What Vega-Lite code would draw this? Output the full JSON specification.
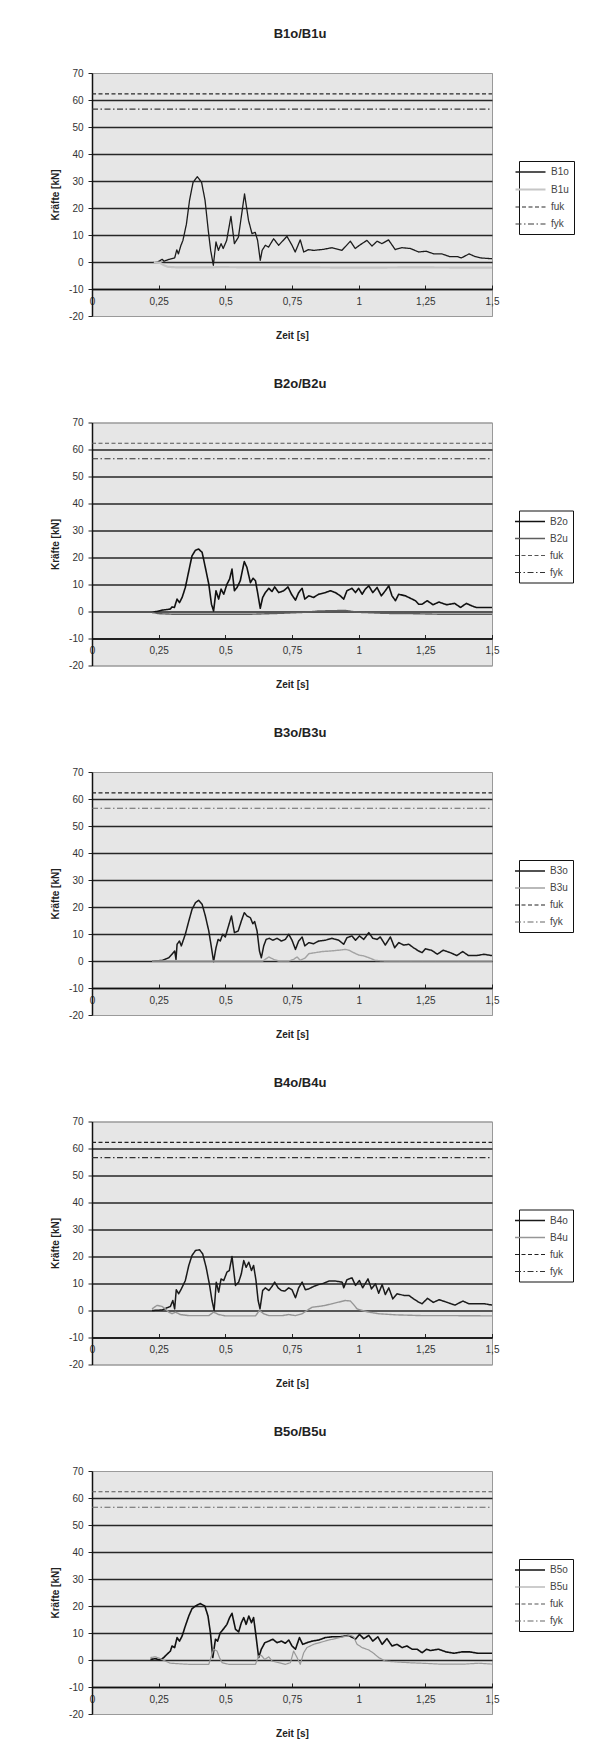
{
"$schema":"https://vega.github.io/schema/vega-lite/v6.json",
"padding":{"left":50,"top":27,"right":0,"bottom":0},
"spacing":35.5,
"datasets":{
"p1":[
{"s":"B1o","t":0.232,"v":0},{"s":"B1o","t":0.245,"v":0},{"s":"B1o","t":0.255,"v":0.5},{"s":"B1o","t":0.263,"v":1},{"s":"B1o","t":0.27,"v":0.3},{"s":"B1o","t":0.29,"v":1},{"s":"B1o","t":0.31,"v":1.5},{"s":"B1o","t":0.318,"v":4.5},{"s":"B1o","t":0.324,"v":3},{"s":"B1o","t":0.333,"v":6},{"s":"B1o","t":0.341,"v":8},{"s":"B1o","t":0.354,"v":14},{"s":"B1o","t":0.366,"v":23},{"s":"B1o","t":0.379,"v":29.5},{"s":"B1o","t":0.395,"v":31.6},{"s":"B1o","t":0.411,"v":29.5},{"s":"B1o","t":0.424,"v":22.8},{"s":"B1o","t":0.436,"v":11.7},{"s":"B1o","t":0.445,"v":4.3},{"s":"B1o","t":0.455,"v":-1.2},{"s":"B1o","t":0.465,"v":7.4},{"s":"B1o","t":0.474,"v":4.3},{"s":"B1o","t":0.484,"v":6.8},{"s":"B1o","t":0.492,"v":5},{"s":"B1o","t":0.505,"v":8},{"s":"B1o","t":0.521,"v":16.9},{"s":"B1o","t":0.534,"v":6.8},{"s":"B1o","t":0.549,"v":9.2},{"s":"B1o","t":0.572,"v":25.2},{"s":"B1o","t":0.587,"v":15.4},{"s":"B1o","t":0.6,"v":10.5},{"s":"B1o","t":0.612,"v":11},{"s":"B1o","t":0.621,"v":8},{"s":"B1o","t":0.631,"v":0.6},{"s":"B1o","t":0.638,"v":4.3},{"s":"B1o","t":0.65,"v":6.2},{"s":"B1o","t":0.662,"v":5.5},{"s":"B1o","t":0.681,"v":8.6},{"s":"B1o","t":0.7,"v":6.2},{"s":"B1o","t":0.731,"v":9.5},{"s":"B1o","t":0.75,"v":6.2},{"s":"B1o","t":0.762,"v":3.7},{"s":"B1o","t":0.781,"v":8.2},{"s":"B1o","t":0.794,"v":3.7},{"s":"B1o","t":0.812,"v":4.6},{"s":"B1o","t":0.831,"v":4.3},{"s":"B1o","t":0.869,"v":4.7},{"s":"B1o","t":0.9,"v":5.3},{"s":"B1o","t":0.937,"v":4.3},{"s":"B1o","t":0.969,"v":7.7},{"s":"B1o","t":0.987,"v":5},{"s":"B1o","t":1.006,"v":6.4},{"s":"B1o","t":1.031,"v":8},{"s":"B1o","t":1.05,"v":5.9},{"s":"B1o","t":1.069,"v":7.7},{"s":"B1o","t":1.087,"v":6.8},{"s":"B1o","t":1.112,"v":8.2},{"s":"B1o","t":1.137,"v":4.6},{"s":"B1o","t":1.162,"v":5.3},{"s":"B1o","t":1.194,"v":5},{"s":"B1o","t":1.225,"v":3.7},{"s":"B1o","t":1.253,"v":4},{"s":"B1o","t":1.282,"v":3},{"s":"B1o","t":1.312,"v":3},{"s":"B1o","t":1.341,"v":2},{"s":"B1o","t":1.37,"v":2},{"s":"B1o","t":1.385,"v":1.5},{"s":"B1o","t":1.414,"v":3},{"s":"B1o","t":1.437,"v":2},{"s":"B1o","t":1.459,"v":1.5},{"s":"B1o","t":1.5,"v":1.2},
{"s":"B1u","t":0.232,"v":0},{"s":"B1u","t":0.255,"v":-0.3},{"s":"B1u","t":0.27,"v":-1.2},{"s":"B1u","t":0.285,"v":-1.8},{"s":"B1u","t":0.32,"v":-2},{"s":"B1u","t":0.45,"v":-2},{"s":"B1u","t":0.47,"v":-1.9},{"s":"B1u","t":0.6,"v":-2},{"s":"B1u","t":0.8,"v":-2},{"s":"B1u","t":1.0,"v":-2.1},{"s":"B1u","t":1.2,"v":-2},{"s":"B1u","t":1.5,"v":-2.1},
{"s":"fuk","t":0,"v":62.3},{"s":"fuk","t":1.5,"v":62.3},{"s":"fyk","t":0,"v":56.6},{"s":"fyk","t":1.5,"v":56.6}
],
"p2":[
{"s":"B2o","t":0.225,"v":-0.4},{"s":"B2o","t":0.263,"v":0.5},{"s":"B2o","t":0.294,"v":0.9},{"s":"B2o","t":0.3,"v":1.7},{"s":"B2o","t":0.309,"v":1.5},{"s":"B2o","t":0.319,"v":4.6},{"s":"B2o","t":0.328,"v":3.3},{"s":"B2o","t":0.338,"v":5.2},{"s":"B2o","t":0.35,"v":8.9},{"s":"B2o","t":0.363,"v":15},{"s":"B2o","t":0.375,"v":20.6},{"s":"B2o","t":0.388,"v":22.7},{"s":"B2o","t":0.4,"v":23.1},{"s":"B2o","t":0.413,"v":21.9},{"s":"B2o","t":0.425,"v":16.3},{"s":"B2o","t":0.438,"v":10.1},{"s":"B2o","t":0.448,"v":2.7},{"s":"B2o","t":0.456,"v":0.2},{"s":"B2o","t":0.465,"v":7.7},{"s":"B2o","t":0.475,"v":4.6},{"s":"B2o","t":0.484,"v":8.3},{"s":"B2o","t":0.494,"v":6.4},{"s":"B2o","t":0.506,"v":10.1},{"s":"B2o","t":0.516,"v":12},{"s":"B2o","t":0.525,"v":15.7},{"s":"B2o","t":0.534,"v":7.7},{"s":"B2o","t":0.544,"v":8.9},{"s":"B2o","t":0.556,"v":11.4},{"s":"B2o","t":0.571,"v":18.5},{"s":"B2o","t":0.581,"v":16.3},{"s":"B2o","t":0.594,"v":10.7},{"s":"B2o","t":0.604,"v":12.3},{"s":"B2o","t":0.613,"v":11.4},{"s":"B2o","t":0.621,"v":7},{"s":"B2o","t":0.631,"v":1.2},{"s":"B2o","t":0.64,"v":5.2},{"s":"B2o","t":0.65,"v":7},{"s":"B2o","t":0.663,"v":8.6},{"s":"B2o","t":0.675,"v":7.4},{"s":"B2o","t":0.685,"v":9.1},{"s":"B2o","t":0.7,"v":7},{"s":"B2o","t":0.719,"v":7.7},{"s":"B2o","t":0.735,"v":9.1},{"s":"B2o","t":0.748,"v":6.4},{"s":"B2o","t":0.763,"v":4.2},{"s":"B2o","t":0.775,"v":7},{"s":"B2o","t":0.788,"v":8.6},{"s":"B2o","t":0.798,"v":4.6},{"s":"B2o","t":0.813,"v":5.8},{"s":"B2o","t":0.831,"v":5.2},{"s":"B2o","t":0.85,"v":6.4},{"s":"B2o","t":0.875,"v":7},{"s":"B2o","t":0.894,"v":7.7},{"s":"B2o","t":0.913,"v":7},{"s":"B2o","t":0.931,"v":5.8},{"s":"B2o","t":0.944,"v":4.6},{"s":"B2o","t":0.956,"v":7.7},{"s":"B2o","t":0.975,"v":8.6},{"s":"B2o","t":0.988,"v":7},{"s":"B2o","t":1.0,"v":8.6},{"s":"B2o","t":1.013,"v":6.4},{"s":"B2o","t":1.025,"v":8.3},{"s":"B2o","t":1.038,"v":9.5},{"s":"B2o","t":1.053,"v":7},{"s":"B2o","t":1.069,"v":8.9},{"s":"B2o","t":1.085,"v":5.8},{"s":"B2o","t":1.1,"v":7.7},{"s":"B2o","t":1.113,"v":9.5},{"s":"B2o","t":1.125,"v":5.8},{"s":"B2o","t":1.138,"v":4},{"s":"B2o","t":1.15,"v":6.4},{"s":"B2o","t":1.175,"v":5.8},{"s":"B2o","t":1.194,"v":4.9},{"s":"B2o","t":1.213,"v":4},{"s":"B2o","t":1.225,"v":2.7},{"s":"B2o","t":1.238,"v":2.7},{"s":"B2o","t":1.257,"v":4},{"s":"B2o","t":1.279,"v":2.5},{"s":"B2o","t":1.301,"v":3.5},{"s":"B2o","t":1.33,"v":2.5},{"s":"B2o","t":1.36,"v":3},{"s":"B2o","t":1.382,"v":1.5},{"s":"B2o","t":1.404,"v":3},{"s":"B2o","t":1.426,"v":2},{"s":"B2o","t":1.441,"v":1.5},{"s":"B2o","t":1.47,"v":1.5},{"s":"B2o","t":1.5,"v":1.5},
{"s":"B2u","t":0.225,"v":-0.3},{"s":"B2u","t":0.25,"v":-0.8},{"s":"B2u","t":0.3,"v":-1},{"s":"B2u","t":0.45,"v":-1},{"s":"B2u","t":0.6,"v":-1},{"s":"B2u","t":0.7,"v":-0.7},{"s":"B2u","t":0.8,"v":-0.3},{"s":"B2u","t":0.85,"v":0.2},{"s":"B2u","t":0.9,"v":0.3},{"s":"B2u","t":0.95,"v":0.4},{"s":"B2u","t":1.0,"v":-0.3},{"s":"B2u","t":1.1,"v":-0.7},{"s":"B2u","t":1.2,"v":-0.8},{"s":"B2u","t":1.3,"v":-1},{"s":"B2u","t":1.5,"v":-1},
{"s":"fuk","t":0,"v":62.3},{"s":"fuk","t":1.5,"v":62.3},{"s":"fyk","t":0,"v":56.6},{"s":"fyk","t":1.5,"v":56.6}
],
"p3":[
{"s":"B3o","t":0.225,"v":0},{"s":"B3o","t":0.263,"v":0.2},{"s":"B3o","t":0.288,"v":1.2},{"s":"B3o","t":0.3,"v":2.5},{"s":"B3o","t":0.31,"v":3.7},{"s":"B3o","t":0.315,"v":0.6},{"s":"B3o","t":0.319,"v":6.2},{"s":"B3o","t":0.328,"v":7.4},{"s":"B3o","t":0.335,"v":5.6},{"s":"B3o","t":0.35,"v":9.9},{"s":"B3o","t":0.363,"v":14.8},{"s":"B3o","t":0.375,"v":19.1},{"s":"B3o","t":0.388,"v":21.6},{"s":"B3o","t":0.4,"v":22.5},{"s":"B3o","t":0.413,"v":21},{"s":"B3o","t":0.425,"v":16.7},{"s":"B3o","t":0.438,"v":11.1},{"s":"B3o","t":0.448,"v":4.9},{"s":"B3o","t":0.456,"v":-0.2},{"s":"B3o","t":0.465,"v":4.9},{"s":"B3o","t":0.473,"v":8},{"s":"B3o","t":0.481,"v":7.4},{"s":"B3o","t":0.49,"v":9.9},{"s":"B3o","t":0.5,"v":8.9},{"s":"B3o","t":0.51,"v":12.3},{"s":"B3o","t":0.523,"v":16.7},{"s":"B3o","t":0.534,"v":10.5},{"s":"B3o","t":0.548,"v":11.1},{"s":"B3o","t":0.56,"v":14.8},{"s":"B3o","t":0.571,"v":17.9},{"s":"B3o","t":0.581,"v":16.7},{"s":"B3o","t":0.594,"v":16},{"s":"B3o","t":0.603,"v":13.8},{"s":"B3o","t":0.61,"v":14.6},{"s":"B3o","t":0.619,"v":11.1},{"s":"B3o","t":0.628,"v":3.7},{"s":"B3o","t":0.635,"v":1.2},{"s":"B3o","t":0.644,"v":5.6},{"s":"B3o","t":0.653,"v":8},{"s":"B3o","t":0.665,"v":8.4},{"s":"B3o","t":0.678,"v":7.7},{"s":"B3o","t":0.694,"v":8.4},{"s":"B3o","t":0.71,"v":7.4},{"s":"B3o","t":0.725,"v":8},{"s":"B3o","t":0.738,"v":9.9},{"s":"B3o","t":0.75,"v":7.7},{"s":"B3o","t":0.763,"v":4.3},{"s":"B3o","t":0.775,"v":7.4},{"s":"B3o","t":0.788,"v":8.9},{"s":"B3o","t":0.798,"v":5.6},{"s":"B3o","t":0.813,"v":6.8},{"s":"B3o","t":0.831,"v":6.4},{"s":"B3o","t":0.85,"v":7.4},{"s":"B3o","t":0.875,"v":7.7},{"s":"B3o","t":0.9,"v":8.4},{"s":"B3o","t":0.925,"v":7.7},{"s":"B3o","t":0.944,"v":6.2},{"s":"B3o","t":0.956,"v":8.6},{"s":"B3o","t":0.975,"v":9.3},{"s":"B3o","t":0.988,"v":7.7},{"s":"B3o","t":1.003,"v":9.3},{"s":"B3o","t":1.019,"v":8},{"s":"B3o","t":1.038,"v":10.5},{"s":"B3o","t":1.053,"v":8.4},{"s":"B3o","t":1.069,"v":8},{"s":"B3o","t":1.081,"v":8.9},{"s":"B3o","t":1.1,"v":5.9},{"s":"B3o","t":1.119,"v":8.9},{"s":"B3o","t":1.135,"v":4.9},{"s":"B3o","t":1.15,"v":6.8},{"s":"B3o","t":1.169,"v":5.9},{"s":"B3o","t":1.188,"v":6.2},{"s":"B3o","t":1.206,"v":4.9},{"s":"B3o","t":1.225,"v":3.7},{"s":"B3o","t":1.238,"v":3.1},{"s":"B3o","t":1.25,"v":4.5},{"s":"B3o","t":1.273,"v":4},{"s":"B3o","t":1.295,"v":2.5},{"s":"B3o","t":1.317,"v":4},{"s":"B3o","t":1.346,"v":3},{"s":"B3o","t":1.368,"v":2},{"s":"B3o","t":1.39,"v":3.5},{"s":"B3o","t":1.412,"v":2},{"s":"B3o","t":1.441,"v":2},{"s":"B3o","t":1.47,"v":2.5},{"s":"B3o","t":1.5,"v":2},
{"s":"B3u","t":0.225,"v":0},{"s":"B3u","t":0.45,"v":0},{"s":"B3u","t":0.64,"v":0},{"s":"B3u","t":0.663,"v":1.5},{"s":"B3u","t":0.681,"v":0.6},{"s":"B3u","t":0.7,"v":0},{"s":"B3u","t":0.738,"v":0},{"s":"B3u","t":0.756,"v":0.6},{"s":"B3u","t":0.769,"v":1.5},{"s":"B3u","t":0.781,"v":0.2},{"s":"B3u","t":0.8,"v":1.2},{"s":"B3u","t":0.813,"v":2.7},{"s":"B3u","t":0.838,"v":3.1},{"s":"B3u","t":0.863,"v":3.5},{"s":"B3u","t":0.894,"v":3.7},{"s":"B3u","t":0.925,"v":4},{"s":"B3u","t":0.95,"v":4.3},{"s":"B3u","t":0.963,"v":4},{"s":"B3u","t":0.981,"v":3.1},{"s":"B3u","t":1.0,"v":2.2},{"s":"B3u","t":1.019,"v":1.9},{"s":"B3u","t":1.044,"v":1},{"s":"B3u","t":1.063,"v":0.2},{"s":"B3u","t":1.1,"v":0},{"s":"B3u","t":1.3,"v":0},{"s":"B3u","t":1.5,"v":0},
{"s":"fuk","t":0,"v":62.3},{"s":"fuk","t":1.5,"v":62.3},{"s":"fyk","t":0,"v":56.6},{"s":"fyk","t":1.5,"v":56.6}
],
"p4":[
{"s":"B4o","t":0.225,"v":0},{"s":"B4o","t":0.263,"v":0.2},{"s":"B4o","t":0.281,"v":1},{"s":"B4o","t":0.294,"v":1.5},{"s":"B4o","t":0.303,"v":3.7},{"s":"B4o","t":0.31,"v":0.6},{"s":"B4o","t":0.316,"v":7.7},{"s":"B4o","t":0.325,"v":6.2},{"s":"B4o","t":0.335,"v":8},{"s":"B4o","t":0.35,"v":11.1},{"s":"B4o","t":0.363,"v":16.7},{"s":"B4o","t":0.375,"v":20.4},{"s":"B4o","t":0.388,"v":22.2},{"s":"B4o","t":0.403,"v":22.5},{"s":"B4o","t":0.415,"v":21},{"s":"B4o","t":0.428,"v":16},{"s":"B4o","t":0.44,"v":9.9},{"s":"B4o","t":0.45,"v":3.7},{"s":"B4o","t":0.458,"v":0},{"s":"B4o","t":0.466,"v":10.5},{"s":"B4o","t":0.475,"v":6.8},{"s":"B4o","t":0.484,"v":11.7},{"s":"B4o","t":0.494,"v":11.1},{"s":"B4o","t":0.506,"v":14.2},{"s":"B4o","t":0.515,"v":14.8},{"s":"B4o","t":0.525,"v":20},{"s":"B4o","t":0.538,"v":9.3},{"s":"B4o","t":0.55,"v":10.5},{"s":"B4o","t":0.56,"v":13.6},{"s":"B4o","t":0.569,"v":18.5},{"s":"B4o","t":0.578,"v":16},{"s":"B4o","t":0.588,"v":17.9},{"s":"B4o","t":0.598,"v":14.8},{"s":"B4o","t":0.606,"v":16.7},{"s":"B4o","t":0.615,"v":11.1},{"s":"B4o","t":0.623,"v":3.7},{"s":"B4o","t":0.63,"v":0.6},{"s":"B4o","t":0.64,"v":7.4},{"s":"B4o","t":0.65,"v":8.4},{"s":"B4o","t":0.663,"v":7.4},{"s":"B4o","t":0.675,"v":8.9},{"s":"B4o","t":0.685,"v":10.5},{"s":"B4o","t":0.698,"v":8.4},{"s":"B4o","t":0.71,"v":7.4},{"s":"B4o","t":0.723,"v":7.2},{"s":"B4o","t":0.738,"v":8.4},{"s":"B4o","t":0.75,"v":7.7},{"s":"B4o","t":0.763,"v":4.7},{"s":"B4o","t":0.775,"v":8.4},{"s":"B4o","t":0.788,"v":10.5},{"s":"B4o","t":0.8,"v":7.7},{"s":"B4o","t":0.813,"v":8},{"s":"B4o","t":0.831,"v":8.9},{"s":"B4o","t":0.85,"v":9.6},{"s":"B4o","t":0.869,"v":10.1},{"s":"B4o","t":0.888,"v":10.9},{"s":"B4o","t":0.913,"v":10.9},{"s":"B4o","t":0.938,"v":10.5},{"s":"B4o","t":0.944,"v":8.4},{"s":"B4o","t":0.956,"v":11.4},{"s":"B4o","t":0.975,"v":12.1},{"s":"B4o","t":0.988,"v":9.3},{"s":"B4o","t":1.003,"v":11.1},{"s":"B4o","t":1.015,"v":8.4},{"s":"B4o","t":1.035,"v":11.7},{"s":"B4o","t":1.048,"v":8},{"s":"B4o","t":1.063,"v":9.9},{"s":"B4o","t":1.075,"v":6.4},{"s":"B4o","t":1.088,"v":9.6},{"s":"B4o","t":1.1,"v":5.9},{"s":"B4o","t":1.113,"v":8.4},{"s":"B4o","t":1.128,"v":4.3},{"s":"B4o","t":1.144,"v":6.2},{"s":"B4o","t":1.169,"v":5.6},{"s":"B4o","t":1.188,"v":5.6},{"s":"B4o","t":1.206,"v":4.3},{"s":"B4o","t":1.225,"v":3.1},{"s":"B4o","t":1.238,"v":2.5},{"s":"B4o","t":1.258,"v":4.5},{"s":"B4o","t":1.28,"v":3},{"s":"B4o","t":1.302,"v":4},{"s":"B4o","t":1.332,"v":3},{"s":"B4o","t":1.361,"v":2},{"s":"B4o","t":1.391,"v":3.5},{"s":"B4o","t":1.413,"v":2.5},{"s":"B4o","t":1.443,"v":2.5},{"s":"B4o","t":1.472,"v":2.5},{"s":"B4o","t":1.5,"v":2},
{"s":"B4u","t":0.225,"v":0.6},{"s":"B4u","t":0.244,"v":1.9},{"s":"B4u","t":0.263,"v":1.5},{"s":"B4u","t":0.275,"v":0.6},{"s":"B4u","t":0.288,"v":-0.6},{"s":"B4u","t":0.3,"v":-1.2},{"s":"B4u","t":0.313,"v":-0.6},{"s":"B4u","t":0.331,"v":-1.5},{"s":"B4u","t":0.363,"v":-1.9},{"s":"B4u","t":0.438,"v":-1.9},{"s":"B4u","t":0.456,"v":-0.6},{"s":"B4u","t":0.475,"v":-1.5},{"s":"B4u","t":0.5,"v":-2},{"s":"B4u","t":0.613,"v":-2},{"s":"B4u","t":0.628,"v":0},{"s":"B4u","t":0.644,"v":-1.2},{"s":"B4u","t":0.663,"v":-1.9},{"s":"B4u","t":0.713,"v":-1.9},{"s":"B4u","t":0.738,"v":-1.5},{"s":"B4u","t":0.763,"v":-1.9},{"s":"B4u","t":0.788,"v":-1.2},{"s":"B4u","t":0.806,"v":0},{"s":"B4u","t":0.825,"v":1.2},{"s":"B4u","t":0.85,"v":1.5},{"s":"B4u","t":0.875,"v":1.9},{"s":"B4u","t":0.9,"v":2.5},{"s":"B4u","t":0.925,"v":3.1},{"s":"B4u","t":0.95,"v":3.7},{"s":"B4u","t":0.969,"v":3.5},{"s":"B4u","t":0.981,"v":2.2},{"s":"B4u","t":0.994,"v":0.6},{"s":"B4u","t":1.013,"v":0},{"s":"B4u","t":1.038,"v":-0.6},{"s":"B4u","t":1.075,"v":-1.2},{"s":"B4u","t":1.138,"v":-1.6},{"s":"B4u","t":1.238,"v":-1.9},{"s":"B4u","t":1.35,"v":-1.9},{"s":"B4u","t":1.5,"v":-2},
{"s":"fuk","t":0,"v":62.3},{"s":"fuk","t":1.5,"v":62.3},{"s":"fyk","t":0,"v":56.6},{"s":"fyk","t":1.5,"v":56.6}
],
"p5":[
{"s":"B5o","t":0.219,"v":0.2},{"s":"B5o","t":0.238,"v":0.5},{"s":"B5o","t":0.256,"v":0},{"s":"B5o","t":0.269,"v":0.9},{"s":"B5o","t":0.281,"v":2.1},{"s":"B5o","t":0.294,"v":3.3},{"s":"B5o","t":0.3,"v":5.2},{"s":"B5o","t":0.31,"v":4.6},{"s":"B5o","t":0.319,"v":8.3},{"s":"B5o","t":0.328,"v":7},{"s":"B5o","t":0.338,"v":8.9},{"s":"B5o","t":0.35,"v":12.6},{"s":"B5o","t":0.363,"v":16.3},{"s":"B5o","t":0.375,"v":19},{"s":"B5o","t":0.388,"v":20},{"s":"B5o","t":0.406,"v":20.9},{"s":"B5o","t":0.423,"v":20},{"s":"B5o","t":0.435,"v":16.3},{"s":"B5o","t":0.444,"v":10.1},{"s":"B5o","t":0.453,"v":0.9},{"s":"B5o","t":0.463,"v":7.7},{"s":"B5o","t":0.471,"v":7},{"s":"B5o","t":0.481,"v":10.1},{"s":"B5o","t":0.494,"v":11.6},{"s":"B5o","t":0.506,"v":13.2},{"s":"B5o","t":0.516,"v":15.7},{"s":"B5o","t":0.525,"v":17.3},{"s":"B5o","t":0.538,"v":11.4},{"s":"B5o","t":0.55,"v":10.4},{"s":"B5o","t":0.56,"v":13.8},{"s":"B5o","t":0.569,"v":15.7},{"s":"B5o","t":0.578,"v":13.2},{"s":"B5o","t":0.588,"v":16.3},{"s":"B5o","t":0.598,"v":13.8},{"s":"B5o","t":0.606,"v":15.7},{"s":"B5o","t":0.615,"v":8.9},{"s":"B5o","t":0.625,"v":0.9},{"s":"B5o","t":0.635,"v":4},{"s":"B5o","t":0.648,"v":6.4},{"s":"B5o","t":0.663,"v":7},{"s":"B5o","t":0.678,"v":7.7},{"s":"B5o","t":0.694,"v":6.4},{"s":"B5o","t":0.71,"v":7},{"s":"B5o","t":0.725,"v":6.2},{"s":"B5o","t":0.738,"v":7.4},{"s":"B5o","t":0.75,"v":5.2},{"s":"B5o","t":0.763,"v":4},{"s":"B5o","t":0.778,"v":8.3},{"s":"B5o","t":0.79,"v":5.8},{"s":"B5o","t":0.806,"v":6.4},{"s":"B5o","t":0.825,"v":7},{"s":"B5o","t":0.85,"v":7.4},{"s":"B5o","t":0.875,"v":8.3},{"s":"B5o","t":0.9,"v":8.6},{"s":"B5o","t":0.931,"v":8.6},{"s":"B5o","t":0.963,"v":9.1},{"s":"B5o","t":0.988,"v":7.7},{"s":"B5o","t":1.003,"v":9.5},{"s":"B5o","t":1.019,"v":7.9},{"s":"B5o","t":1.038,"v":9.1},{"s":"B5o","t":1.053,"v":7},{"s":"B5o","t":1.072,"v":8.6},{"s":"B5o","t":1.088,"v":5.8},{"s":"B5o","t":1.106,"v":7.9},{"s":"B5o","t":1.125,"v":5.2},{"s":"B5o","t":1.144,"v":5.8},{"s":"B5o","t":1.163,"v":4.6},{"s":"B5o","t":1.181,"v":5.2},{"s":"B5o","t":1.2,"v":4},{"s":"B5o","t":1.219,"v":4},{"s":"B5o","t":1.238,"v":2.7},{"s":"B5o","t":1.255,"v":4},{"s":"B5o","t":1.269,"v":3.5},{"s":"B5o","t":1.299,"v":4},{"s":"B5o","t":1.328,"v":3},{"s":"B5o","t":1.358,"v":2.5},{"s":"B5o","t":1.387,"v":3},{"s":"B5o","t":1.417,"v":3},{"s":"B5o","t":1.446,"v":2.5},{"s":"B5o","t":1.476,"v":2.5},{"s":"B5o","t":1.5,"v":2.5},
{"s":"B5u","t":0.219,"v":0.9},{"s":"B5u","t":0.238,"v":1.2},{"s":"B5u","t":0.256,"v":0.5},{"s":"B5u","t":0.275,"v":-0.4},{"s":"B5u","t":0.294,"v":-1.2},{"s":"B5u","t":0.363,"v":-1.6},{"s":"B5u","t":0.438,"v":-1.6},{"s":"B5u","t":0.448,"v":1.5},{"s":"B5u","t":0.456,"v":4},{"s":"B5u","t":0.469,"v":3.3},{"s":"B5u","t":0.478,"v":0.9},{"s":"B5u","t":0.488,"v":-1},{"s":"B5u","t":0.513,"v":-1.6},{"s":"B5u","t":0.613,"v":-1.6},{"s":"B5u","t":0.625,"v":1.5},{"s":"B5u","t":0.635,"v":1.7},{"s":"B5u","t":0.648,"v":0.2},{"s":"B5u","t":0.663,"v":1.2},{"s":"B5u","t":0.675,"v":-0.4},{"s":"B5u","t":0.7,"v":-1},{"s":"B5u","t":0.725,"v":-1.6},{"s":"B5u","t":0.744,"v":-1},{"s":"B5u","t":0.756,"v":3.3},{"s":"B5u","t":0.769,"v":0.9},{"s":"B5u","t":0.781,"v":-1.6},{"s":"B5u","t":0.794,"v":2.7},{"s":"B5u","t":0.806,"v":4.6},{"s":"B5u","t":0.831,"v":5.8},{"s":"B5u","t":0.863,"v":6.7},{"s":"B5u","t":0.888,"v":7.4},{"s":"B5u","t":0.913,"v":7.9},{"s":"B5u","t":0.938,"v":8.5},{"s":"B5u","t":0.969,"v":9.1},{"s":"B5u","t":0.981,"v":8.6},{"s":"B5u","t":0.994,"v":5.8},{"s":"B5u","t":1.013,"v":4.6},{"s":"B5u","t":1.038,"v":3.7},{"s":"B5u","t":1.056,"v":2.5},{"s":"B5u","t":1.075,"v":0.9},{"s":"B5u","t":1.1,"v":-0.4},{"s":"B5u","t":1.138,"v":-0.7},{"s":"B5u","t":1.188,"v":-1},{"s":"B5u","t":1.238,"v":-1.2},{"s":"B5u","t":1.3,"v":-1.5},{"s":"B5u","t":1.4,"v":-1.5},{"s":"B5u","t":1.45,"v":-1.2},{"s":"B5u","t":1.5,"v":-1.5},
{"s":"fuk","t":0,"v":62.3},{"s":"fuk","t":1.5,"v":62.3},{"s":"fyk","t":0,"v":56.6},{"s":"fyk","t":1.5,"v":56.6}
]
},
"vconcat":[
{"data":{"name":"p1"},"title":{"text":"B1o/B1u"},"width":400,"height":243,
"mark":{"type":"line","strokeJoin":"round"},
"encoding":{
"x":{"field":"t","type":"quantitative","title":"Zeit [s]","scale":{"domain":[0,1.5],"nice":false,"zero":false},"axis":{"values":[0,0.25,0.5,0.75,1,1.25,1.5],"offset":-27,"grid":false,"tickSize":-4,"labelPadding":11,"labelExpr":"replace(format(datum.value,'~g'),'.',',')","labelFlush":false,"labelOverlap":false,"titlePadding":24}},
"y":{"field":"v","type":"quantitative","title":"Kräfte [kN]","scale":{"domain":[-20,70],"nice":false}},
"color":{"field":"s","type":"nominal","title":null,"scale":{"domain":["B1o","B1u","fuk","fyk"],"range":["#1c1c1c","#c6c6c6","#2a2a2a","#3a3a3a"]},"legend":{"legendX":427,"legendY":88}},
"strokeDash":{"field":"s","type":"nominal","title":null,"scale":{"domain":["B1o","B1u","fuk","fyk"],"range":[[1,0],[1,0],[4,2.5],[6,2.5,1.5,2.5]]},"legend":{"legendX":427,"legendY":88}},
"strokeWidth":{"field":"s","type":"nominal","title":null,"scale":{"type":"ordinal","domain":["B1o","B1u","fuk","fyk"],"range":[1.3,2.2,1.2,1.2]},"legend":{"legendX":427,"legendY":88}}
}},
{"data":{"name":"p2"},"title":{"text":"B2o/B2u"},"width":400,"height":243,
"mark":{"type":"line","strokeJoin":"round"},
"encoding":{
"x":{"field":"t","type":"quantitative","title":"Zeit [s]","scale":{"domain":[0,1.5],"nice":false,"zero":false},"axis":{"values":[0,0.25,0.5,0.75,1,1.25,1.5],"offset":-27,"grid":false,"tickSize":-4,"labelPadding":11,"labelExpr":"replace(format(datum.value,'~g'),'.',',')","labelFlush":false,"labelOverlap":false,"titlePadding":24}},
"y":{"field":"v","type":"quantitative","title":"Kräfte [kN]","scale":{"domain":[-20,70],"nice":false}},
"color":{"field":"s","type":"nominal","title":null,"scale":{"domain":["B2o","B2u","fuk","fyk"],"range":["#111111","#5e5e5e","#555555","#333333"]},"legend":{"legendX":427,"legendY":88}},
"strokeDash":{"field":"s","type":"nominal","title":null,"scale":{"domain":["B2o","B2u","fuk","fyk"],"range":[[1,0],[1,0],[4,2.5],[6,2.5,1.5,2.5]]},"legend":{"legendX":427,"legendY":88}},
"strokeWidth":{"field":"s","type":"nominal","title":null,"scale":{"type":"ordinal","domain":["B2o","B2u","fuk","fyk"],"range":[1.6,1.4,1.1,1.1]},"legend":{"legendX":427,"legendY":88}}
}},
{"data":{"name":"p3"},"title":{"text":"B3o/B3u"},"width":400,"height":243,
"mark":{"type":"line","strokeJoin":"round"},
"encoding":{
"x":{"field":"t","type":"quantitative","title":"Zeit [s]","scale":{"domain":[0,1.5],"nice":false,"zero":false},"axis":{"values":[0,0.25,0.5,0.75,1,1.25,1.5],"offset":-27,"grid":false,"tickSize":-4,"labelPadding":11,"labelExpr":"replace(format(datum.value,'~g'),'.',',')","labelFlush":false,"labelOverlap":false,"titlePadding":24}},
"y":{"field":"v","type":"quantitative","title":"Kräfte [kN]","scale":{"domain":[-20,70],"nice":false}},
"color":{"field":"s","type":"nominal","title":null,"scale":{"domain":["B3o","B3u","fuk","fyk"],"range":["#1a1a1a","#a3a3a3","#222222","#666666"]},"legend":{"legendX":427,"legendY":88}},
"strokeDash":{"field":"s","type":"nominal","title":null,"scale":{"domain":["B3o","B3u","fuk","fyk"],"range":[[1,0],[1,0],[4,2.5],[6,2.5,1.5,2.5]]},"legend":{"legendX":427,"legendY":88}},
"strokeWidth":{"field":"s","type":"nominal","title":null,"scale":{"type":"ordinal","domain":["B3o","B3u","fuk","fyk"],"range":[1.5,1.4,1.2,1.1]},"legend":{"legendX":427,"legendY":88}}
}},
{"data":{"name":"p4"},"title":{"text":"B4o/B4u"},"width":400,"height":243,
"mark":{"type":"line","strokeJoin":"round"},
"encoding":{
"x":{"field":"t","type":"quantitative","title":"Zeit [s]","scale":{"domain":[0,1.5],"nice":false,"zero":false},"axis":{"values":[0,0.25,0.5,0.75,1,1.25,1.5],"offset":-27,"grid":false,"tickSize":-4,"labelPadding":11,"labelExpr":"replace(format(datum.value,'~g'),'.',',')","labelFlush":false,"labelOverlap":false,"titlePadding":24}},
"y":{"field":"v","type":"quantitative","title":"Kräfte [kN]","scale":{"domain":[-20,70],"nice":false}},
"color":{"field":"s","type":"nominal","title":null,"scale":{"domain":["B4o","B4u","fuk","fyk"],"range":["#1a1a1a","#969696","#222222","#333333"]},"legend":{"legendX":427,"legendY":88}},
"strokeDash":{"field":"s","type":"nominal","title":null,"scale":{"domain":["B4o","B4u","fuk","fyk"],"range":[[1,0],[1,0],[4,2.5],[6,2.5,1.5,2.5]]},"legend":{"legendX":427,"legendY":88}},
"strokeWidth":{"field":"s","type":"nominal","title":null,"scale":{"type":"ordinal","domain":["B4o","B4u","fuk","fyk"],"range":[1.5,1.4,1.2,1.2]},"legend":{"legendX":427,"legendY":88}}
}},
{"data":{"name":"p5"},"title":{"text":"B5o/B5u"},"width":400,"height":243,
"mark":{"type":"line","strokeJoin":"round"},
"encoding":{
"x":{"field":"t","type":"quantitative","title":"Zeit [s]","scale":{"domain":[0,1.5],"nice":false,"zero":false},"axis":{"values":[0,0.25,0.5,0.75,1,1.25,1.5],"offset":-27,"grid":false,"tickSize":-4,"labelPadding":11,"labelExpr":"replace(format(datum.value,'~g'),'.',',')","labelFlush":false,"labelOverlap":false,"titlePadding":24}},
"y":{"field":"v","type":"quantitative","title":"Kräfte [kN]","scale":{"domain":[-20,70],"nice":false}},
"color":{"field":"s","type":"nominal","title":null,"scale":{"domain":["B5o","B5u","fuk","fyk"],"range":["#111111","#999999","#555555","#666666"]},"legend":{"legendX":427,"legendY":88}},
"strokeDash":{"field":"s","type":"nominal","title":null,"scale":{"domain":["B5o","B5u","fuk","fyk"],"range":[[1,0],[1,0],[4,2.5],[6,2.5,1.5,2.5]]},"legend":{"legendX":427,"legendY":88}},
"strokeWidth":{"field":"s","type":"nominal","title":null,"scale":{"type":"ordinal","domain":["B5o","B5u","fuk","fyk"],"range":[1.6,1.2,1.1,1.1]},"legend":{"legendX":427,"legendY":88}}
}}
],
"resolve":{"scale":{"color":"independent","strokeDash":"independent","strokeWidth":"independent"},"legend":{"color":"independent","strokeDash":"independent","strokeWidth":"independent"}},
"config":{
"font":"Liberation Sans",
"view":{"fill":"#e6e6e6","stroke":"#999999","strokeWidth":1},
"title":{"fontSize":13,"fontWeight":"bold","color":"#222222","offset":27,"frame":"group","dx":8},
"axis":{"labelFont":"Liberation Sans","labelFontSize":10,"labelColor":"#333333","titleFont":"Liberation Sans","titleFontSize":10,"titleFontWeight":"bold","titleColor":"#222222","domainColor":"#111111","domainWidth":1.5,"tickColor":"#222222"},
"axisY":{"values":[-20,-10,0,10,20,30,40,50,60,70],"grid":true,"gridColor":{"condition":{"test":"datum.value==70||datum.value==-20","value":"#9a9a9a"},"value":"#262626"},"gridWidth":{"condition":{"test":"datum.value==70||datum.value==-20","value":1},"value":1.6},"tickSize":4,"labelPadding":5,"labelExpr":"''+datum.value","titlePadding":8},
"legend":{"orient":"none","strokeColor":"#111111","padding":5,"symbolType":"M-3,0H3","symbolSize":100,"labelFontSize":10,"labelColor":"#444444","labelOffset":14,"rowPadding":6}
}
}
